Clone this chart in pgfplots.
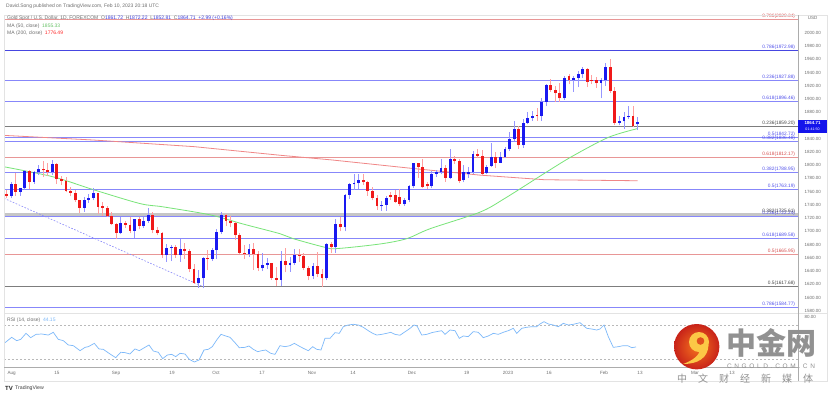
\documentclass[border=0pt]{standalone}
\usepackage{pgfplots}
\pgfplotsset{compat=1.18}
\usepackage{pgfplotstable}
\usepackage{fontspec}
\setmainfont{Liberation Sans}
\newfontfamily\cjk{Noto Sans CJK SC}

\definecolor{upbody}{RGB}{25,25,240}
\definecolor{upwick}{RGB}{150,150,255}
\definecolor{dnbody}{RGB}{240,25,25}
\definecolor{dnwick}{RGB}{255,160,160}
\definecolor{fibblue}{RGB}{135,135,250}
\definecolor{fibdark}{RGB}{70,70,225}
\definecolor{fibred}{RGB}{232,150,150}
\definecolor{fibgray}{RGB}{125,125,125}
\definecolor{lblblue}{RGB}{80,80,235}
\definecolor{lblred}{RGB}{215,80,80}
\definecolor{lblgray}{RGB}{70,70,70}
\definecolor{ma50}{RGB}{120,228,120}
\definecolor{ma200}{RGB}{240,135,135}
\definecolor{rsic}{RGB}{125,185,250}
\definecolor{txtgray}{RGB}{110,110,110}
\definecolor{valblue}{RGB}{60,60,220}
\definecolor{pricebox}{RGB}{20,20,235}
\definecolor{wm}{RGB}{145,145,145}
\definecolor{logoin}{RGB}{245,115,30}
\definecolor{logoout}{RGB}{200,35,25}
\definecolor{logoy}{RGB}{252,200,70}
\definecolor{logohole}{RGB}{225,80,30}

\pgfplotstableread{
i O H L C
0 1753 1775 1750 1772
2 1760 1766 1754 1765
3 1765 1792 1763 1791
5 1775 1791 1772 1789
6 1789 1800 1785 1794
9 1789 1808 1785 1802
16 1736 1752 1730 1748
17 1748 1756 1743 1751
18 1751 1765 1747 1758
24 1697 1722 1696 1712
27 1701 1719 1690 1718
29 1708 1721 1705 1716
30 1716 1735 1713 1725
34 1665 1681 1654 1675
35 1675 1680 1655 1677
37 1664 1688 1654 1673
41 1622 1641 1615 1629
42 1629 1661 1614 1660
44 1658 1675 1656 1672
45 1672 1704 1659 1699
46 1699 1729 1696 1725
52 1666 1681 1662 1673
55 1644 1667 1640 1650
56 1650 1660 1643 1652
59 1627 1670 1617 1656
61 1649 1661 1639 1652
62 1652 1674 1650 1665
66 1633 1652 1628 1647
69 1629 1682 1626 1681
71 1676 1718 1668 1711
73 1706 1756 1700 1755
74 1755 1773 1749 1771
75 1771 1787 1763 1773
76 1773 1787 1764 1777
81 1738 1746 1731 1740
82 1740 1754 1731 1750
86 1741 1751 1739 1748
87 1748 1770 1744 1768
88 1768 1804 1766 1803
92 1768 1791 1765 1786
93 1786 1792 1782 1789
94 1789 1810 1786 1796
96 1781 1824 1779 1810
99 1777 1800 1774 1789
100 1787 1797 1781 1790
101 1789 1822 1786 1817
104 1788 1801 1786 1798
105 1799 1833 1797 1813
107 1804 1820 1803 1813
108 1813 1827 1811 1824
109 1824 1850 1822 1839
110 1839 1866 1837 1854
112 1830 1869 1826 1864
113 1864 1881 1862 1871
114 1871 1882 1867 1874
116 1874 1901 1867 1896
117 1896 1922 1889 1921
121 1901 1934 1899 1932
123 1929 1935 1911 1932
124 1932 1942 1918 1937
125 1937 1949 1932 1946
129 1924 1931 1901 1928
130 1928 1955 1920 1949
133 1864 1874 1860 1867
134 1866 1880 1855 1873
135 1873 1890 1869 1875
137 1861.72 1872.22 1852.81 1864.71
}\upc

\pgfplotstableread{
i O H L C
-1 1756 1762 1750 1753
1 1772 1788 1754 1760
4 1791 1792 1764 1775
7 1794 1807 1782 1792
8 1792 1804 1784 1789
10 1802 1803 1772 1779
11 1779 1783 1770 1776
12 1776 1782 1759 1761
13 1761 1767 1753 1758
14 1758 1762 1745 1747
15 1747 1748 1728 1736
19 1758 1758 1727 1737
20 1738 1745 1724 1736
21 1736 1738 1722 1723
22 1723 1729 1709 1711
23 1711 1712 1688 1697
25 1712 1716 1705 1710
26 1710 1721 1697 1701
28 1718 1721 1703 1708
31 1725 1730 1697 1702
32 1702 1707 1694 1697
33 1697 1699 1660 1665
36 1677 1679 1660 1664
38 1673 1682 1658 1671
39 1671 1673 1638 1643
40 1643 1651 1621 1622
43 1660 1672 1641 1658
47 1725 1726 1708 1716
48 1716 1724 1706 1712
49 1712 1714 1687 1695
50 1695 1698 1666 1668
51 1668 1679 1658 1666
53 1673 1682 1642 1666
54 1666 1671 1640 1644
57 1652 1652 1627 1629
58 1629 1646 1618 1627
60 1656 1675 1638 1649
63 1665 1674 1654 1663
64 1663 1668 1641 1645
65 1645 1648 1626 1633
67 1647 1669 1631 1636
68 1636 1643 1616 1629
70 1681 1684 1667 1676
72 1711 1722 1700 1706
77 1777 1787 1770 1774
78 1774 1776 1754 1761
79 1761 1767 1747 1751
80 1751 1755 1732 1738
83 1755 1760 1748 1752
84 1755 1763 1743 1745
85 1752 1764 1739 1741
89 1803 1804 1781 1797
90 1797 1810 1765 1767
91 1772 1775 1764 1768
95 1796 1800 1775 1781
97 1810 1814 1802 1807
98 1807 1810 1773 1776
102 1817 1824 1811 1814
103 1814 1823 1784 1787
106 1813 1820 1795 1804
111 1854 1859 1825 1830
115 1876 1886 1867 1874
118 1921 1930 1911 1914
119 1914 1920 1896 1909
120 1909 1924 1896 1901
122 1935 1938 1922 1929
126 1946 1947 1918 1926
127 1929 1936 1922 1927
128 1928 1933 1917 1924
131 1949 1960 1909 1912
132 1912 1918 1861 1864
136 1874 1890 1857 1859
}\dnc

\newcommand{\fibfont}{\fontsize{4.8}{5}\selectfont}
\newcommand{\fib}[4]{% value, line color, label color, label
  \addplot[#2, line width=0.7pt, forget plot] coordinates {(-1.6,#1) (172.1,#1)};
  \node[anchor=south east, inner sep=0.6pt, text=#3, font=\fibfont] at (axis cs:171.6,#1) {#4};
}

\begin{document}
\begin{tikzpicture}
\useasboundingbox (0,0) rectangle (831pt,-397pt);
\fill[white] (0,0) rectangle (831pt,-397pt);

% ---------- main price panel ----------
\begin{axis}[
  at={(4pt,-312.5pt)}, anchor=south west,
  width=794pt, height=297.5pt, scale only axis,
  xmin=-1.553, xmax=172.07, ymin=1577.5, ymax=2026.8,
  axis line style={draw=none}, tick style={draw=none}, major tick length=0pt,
  xtick=\empty,
  ytick={1580,1600,1620,1640,1660,1680,1700,1720,1740,1760,1780,1800,1820,1840,1880,1900,1920,1940,1960,1980,2000},
  yticklabel pos=right,
  yticklabel style={font=\fontsize{4.5}{5}\selectfont, text=txtgray, anchor=west, xshift=3pt,
    /pgf/number format/.cd, fixed, fixed zerofill, precision=2, 1000 sep={}, assume math mode=true},
  clip mode=individual,
]
% Fibonacci levels
\fib{2020.34}{fibred}{lblred}{0.786(2020.34)}
\fib{1972.98}{fibdark}{lblblue}{0.786(1972.98)}
\fib{1927.88}{fibblue}{lblblue}{0.236(1927.88)}
\fib{1896.46}{fibblue}{lblblue}{0.618(1896.46)}
\fib{1859.20}{fibgray}{lblgray}{0.236(1859.20)}
\fib{1842.72}{fibblue}{lblblue}{0.5(1842.72)}
\fib{1836.48}{fibblue}{lblblue}{0.382(1836.48)}
\fib{1812.17}{fibred}{lblred}{0.618(1812.17)}
\fib{1788.95}{fibblue}{lblblue}{0.382(1788.95)}
\fib{1763.19}{fibblue}{lblblue}{0.5(1763.19)}
\addplot[gray!45, line width=2.6pt, forget plot] coordinates {(-1.6,1725.61) (172.1,1725.61)};
\fib{1722.24}{fibblue}{lblblue}{0.236(1722.24)}
\node[anchor=south east, inner sep=0.6pt, text=lblgray, font=\fibfont] at (axis cs:171.6,1725.61) {0.382(1725.61)};
\fib{1689.58}{fibblue}{lblblue}{0.618(1689.58)}
\fib{1665.95}{fibred}{lblred}{0.5(1665.95)}
\fib{1617.68}{fibgray}{lblgray}{0.5(1617.68)}
\addplot[fibblue, line width=1.6pt, forget plot] coordinates {(-1.6,1584.77) (172.1,1584.77)};
\node[anchor=south east, inner sep=0.6pt, yshift=0.6pt, text=lblblue, font=\fibfont] at (axis cs:171.6,1584.77) {0.786(1584.77)};

% dashed trend line
\addplot[fibblue, line width=0.6pt, dash pattern=on 1.6pt off 1.6pt] coordinates {(-1.553,1750.0) (42,1616.5)};

% moving averages
\addplot[ma200, line width=0.8pt] coordinates {(-1.553,1845) (18,1838) (40,1828) (58.8,1815) (70,1808) (87.9,1795) (102.5,1785) (116.7,1778) (137,1776.5)};
\addplot[ma50, line width=0.8pt, smooth] coordinates {(-1.553,1797.6) (9.2,1782.4) (18,1763) (28.2,1742) (33.3,1737) (43.5,1725) (50.8,1711) (58.8,1696.5) (61.7,1689) (68.6,1676) (71.2,1674) (80.7,1681) (86.5,1689) (91.6,1704) (102.5,1729) (108,1750) (116.7,1788) (122.6,1813) (130.6,1842) (137,1855.3)};

% candles: wicks
\addplot[draw=none, mark=none, error bars/.cd, y dir=plus, y explicit, error mark=none,
  error bar style={draw=upwick, line width=0.8pt}]
  table[x=i, y=L, y error plus expr=\thisrow{H}-\thisrow{L}] {\upc};
\addplot[draw=none, mark=none, error bars/.cd, y dir=plus, y explicit, error mark=none,
  error bar style={draw=dnwick, line width=0.8pt}]
  table[x=i, y=L, y error plus expr=\thisrow{H}-\thisrow{L}] {\dnc};
% candles: bodies
\addplot[draw=none, mark=none, error bars/.cd, y dir=plus, y explicit, error mark=none,
  error bar style={draw=upbody, line width=2.8pt}]
  table[x=i, y=O, y error plus expr=\thisrow{C}-\thisrow{O}] {\upc};
\addplot[draw=none, mark=none, error bars/.cd, y dir=plus, y explicit, error mark=none,
  error bar style={draw=dnbody, line width=2.8pt}]
  table[x=i, y=C, y error plus expr=\thisrow{O}-\thisrow{C}] {\dnc};
\end{axis}

% ---------- RSI panel ----------
\begin{axis}[
  at={(4pt,-367pt)}, anchor=south west,
  width=794pt, height=54pt, scale only axis,
  xmin=4, xmax=798, ymin=20.6, ymax=84.1,
  axis line style={draw=none}, tick style={draw=none}, major tick length=0pt,
  xtick={11.7,57,116,172,216,262,312,353,412,466.7,508,549,604,640,695,732},
  xticklabels={Aug,15,Sep,19,Oct,17,Nov,14,Dec,19,2023,16,Feb,13,Mar,13},
  xticklabel style={font=\fontsize{4.6}{5}\selectfont, text=txtgray, yshift=-1pt},
  ytick={80}, yticklabel pos=right,
  yticklabel style={font=\fontsize{4.5}{5}\selectfont, text=txtgray, anchor=west, xshift=3pt,
    /pgf/number format/.cd, fixed, fixed zerofill, precision=2, assume math mode=true},
  clip mode=individual,
]
\addplot[gray!55, line width=0.45pt, dash pattern=on 2pt off 2pt] coordinates {(4,70) (798,70)};
\addplot[gray!55, line width=0.45pt, dash pattern=on 2pt off 2pt] coordinates {(4,30) (798,30)};
\addplot[rsic, line width=0.7pt] coordinates {
(5,49.2) (11.7,55.5) (16.7,51.6) (20.7,53.1) (26,60.2) (30.7,55.1) (36,59) (41.7,59.4) (48.3,58.2) (53.3,61.4)
(58.3,53.1) (63.3,51.6) (68.3,46.5) (73.3,45.7) (80,39.8) (85,43.7) (88.3,44.5) (94.3,48.4) (99,41.8) (103.3,41.4)
(110,35.9) (115.7,31.6) (120.7,37.9) (125,37.5) (130,35.9) (135,41.8) (139.3,39.8) (143.3,42.6) (149,46.5) (153.3,39.4)
(158.3,37.9) (162.7,30.4) (167.3,34.7) (171.7,35.5) (175.7,32.8) (180,36.7) (185,35.9) (189.3,29.6) (194.3,26.5) (199,28.8)
(204,40.6) (208.3,41.4) (212.3,44.5) (216.7,52.4) (221,59) (225.7,57.1) (230,55.5) (235,49.2) (239.3,43.3) (245,43.7)
(249,45.3) (253.3,41.4) (257.7,38.6) (261.7,39.8) (265.7,40.6) (270.7,36.7) (275,35.5) (280,45.7) (285,44.5) (290,45.7)
(294.3,48.4) (299,45.3) (303.3,42.6) (308.3,39.8) (312.7,44.5) (316.7,41.4) (321,40.6) (325,54.3) (330,54.3) (335,61)
(339.3,60.2) (343.3,68) (348.3,70) (353.3,70.8) (358.3,70) (363.3,67.3) (368.3,63.3) (372.7,60.2) (376.7,58.2) (381.7,59)
(386.7,60.2) (390.7,61.4) (395,59) (400,58) (405,62) (410,66) (414,70) (417,68.8) (421.7,58.2) (426.7,59)
(431.7,61) (436.7,62.2) (441.7,63.3) (445,59) (450,64.1) (455,63.3) (459.3,54.3) (463.3,57.1) (468.3,56.3) (473.3,62.2)
(478.3,61.4) (483.3,55.1) (488.3,57.1) (493.3,60.2) (498.3,59) (503.3,61.4) (508.3,63.3) (513.3,66.1) (516.7,60.2) (521.7,66.1)
(526.7,67.3) (531.7,68) (536.7,68) (540,71.2) (544,73.9) (548.3,71.2) (553.3,70) (558.3,68) (563.3,71.9) (568.3,70)
(573.3,70.8) (580,72.7) (586.7,66.1) (591.7,65.3) (596.7,64.1) (600,65.3) (604,70) (608.3,56.3) (613.3,43.7) (618.3,44.5)
(623.3,45.7) (627.7,45.7) (631.7,43.3) (636,44.2)};
\end{axis}

% ---------- frame ----------
\draw[gray!22, line width=0.6pt] (4pt,-15pt) rectangle (827pt,-381pt);
\draw[gray!22, line width=0.6pt] (4pt,-313pt) -- (827pt,-313pt);
\draw[gray!65, line width=0.6pt] (4pt,-367pt) -- (798pt,-367pt);
\draw[gray!65, line width=0.6pt] (798pt,-15pt) -- (798pt,-381pt);

% ---------- texts ----------
\node[anchor=west, inner sep=0pt, font=\fontsize{5}{6}\selectfont, text=txtgray] at (6pt,-6pt)
  {David.Song published on TradingView.com, Feb 10, 2023 20:18 UTC};
\node[anchor=west, inner sep=0pt, font=\fontsize{5}{6}\selectfont, text=txtgray] at (7pt,-18.5pt)
  {Gold Spot / U.S. Dollar, 1D, FOREXCOM\ \ O\textcolor{valblue}{1861.72}\ \ H\textcolor{valblue}{1872.22}\ \ L\textcolor{valblue}{1852.81}\ \ C\textcolor{valblue}{1864.71}\ \ \textcolor{valblue}{+2.99 (+0.16\%)}};
\node[anchor=west, inner sep=0pt, font=\fontsize{5}{6}\selectfont, text=txtgray] at (7pt,-26pt)
  {MA (50, close)\ \ \textcolor{ma50!85!black}{1855.33}};
\node[anchor=west, inner sep=0pt, font=\fontsize{5}{6}\selectfont, text=txtgray] at (7pt,-33.7pt)
  {MA (200, close)\ \ \textcolor{red!85}{1776.49}};
\node[anchor=west, inner sep=0pt, font=\fontsize{5}{6}\selectfont, text=txtgray] at (7pt,-320pt)
  {RSI (14, close)\ \ \textcolor{rsic}{44.15}};
\node[inner sep=0pt, font=\fontsize{4.5}{5}\selectfont, text=txtgray] at (812.5pt,-18.3pt) {USD};

% current price label
\fill[pricebox] (798pt,-119.5pt) rectangle (827pt,-132.5pt);
\node[inner sep=0pt, font=\fontsize{4.4}{5}\selectfont\bfseries, text=white] at (812.5pt,-122.8pt) {1864.71};
\node[inner sep=0pt, font=\fontsize{3.6}{4}\selectfont, text=white] at (812.5pt,-129.4pt) {01:41:50};

% TradingView logo
\node[anchor=west, inner sep=0pt, font=\fontsize{6}{6}\selectfont\bfseries, text=black!85] at (5pt,-388pt) {TV};
\node[anchor=west, inner sep=0pt, font=\fontsize{5.2}{6}\selectfont, text=black!75] at (15pt,-388pt) {TradingView};

% ---------- watermark ----------
\shade[inner color=logoin, outer color=logoout] (696.7pt,-346.7pt) circle (22.7pt);
\fill[logoy] (699pt,-342pt) circle (10pt);
\fill[logoy] (708.5pt,-345pt) .. controls (708pt,-358pt) and (698pt,-364pt) .. (683pt,-364pt)
   .. controls (694pt,-360pt) and (699pt,-355pt) .. (700pt,-350pt) -- cycle;
\fill[logohole] (700.5pt,-341pt) circle (3.8pt);
\node[inner sep=0pt, font=\cjk\bfseries\fontsize{30}{30}\selectfont, text=wm] at (771pt,-343pt) {中金网};
\node[inner sep=0pt, font=\fontsize{6.5}{7}\selectfont, text=wm] at (771pt,-366pt)
  {\makebox[88pt][s]{C\hfil N\hfil G\hfil O\hfil L\hfil D\hfil .\hfil C\hfil O\hfil M\hfil .\hfil C\hfil N}};
\node[inner sep=0pt, font=\cjk\fontsize{10}{10}\selectfont, text=wm] at (745pt,-379pt)
  {\makebox[136pt][s]{中\hfil 文\hfil 财\hfil 经\hfil 新\hfil 媒\hfil 体}};
\end{tikzpicture}
\end{document}
